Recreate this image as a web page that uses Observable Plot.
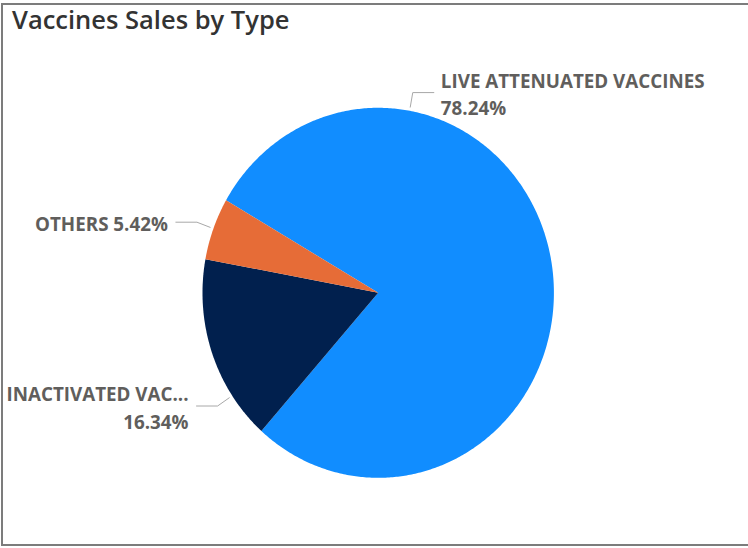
<!DOCTYPE html>
<html>
<head>
<meta charset="utf-8">
<script src="https://cdn.jsdelivr.net/npm/d3@7"></script>
<script src="https://cdn.jsdelivr.net/npm/@observablehq/plot@0.6"></script>
<style>
  html, body { margin: 0; padding: 0; background: #fff; overflow: hidden; }
  #wrap { position: relative; width: 748px; height: 548px; overflow: hidden; }
  #frame { position: absolute; left: 1px; top: 3px; width: 800px; height: 539px;
           border: 2px solid #7c7c7c; box-sizing: content-box; }
  #title { position: absolute; left: 12px; top: 2px; font-family: "Open Sans", sans-serif;
           font-size: 25.5px; font-weight: 600; color: #333333; letter-spacing: 0px; line-height: 34px; }
  #chart { position: absolute; left: 0; top: 0; }
</style>
</head>
<body>
<div id="wrap">
  <div id="frame"></div>
  <div id="chart"></div>
  <div id="title">Vaccines Sales by Type</div>
</div>
<script>
// ---- data ----
const categories = ["Live Attenuated Vaccines", "Inactivated Vaccines", "Others"];
const shares = [78.24, 16.34, 5.42];
const labelNames = ["LIVE ATTENUATED VACCINES", "INACTIVATED VAC...", "OTHERS"];
const colors = ["#118DFF", "#01204E", "#E66C37"];

// ---- layout (not data) ----
const startDeg = -60;
const labelAngleDeg = [10.3, 236.2, 290.3];
const labelSide = [1, -1, -1];
const labelTwoLines = [true, true, false];

const rows = categories.map((c, i) => ({cat: c, share: shares[i], name: labelNames[i]}));
const arcs = d3.pie().sort(null).value(d => d.share).startAngle(startDeg * Math.PI / 180)
  .endAngle(startDeg * Math.PI / 180 + 2 * Math.PI)(rows);

const slicePts = [];
arcs.forEach(a => {
  slicePts.push({cat: a.data.cat, u: 0, v: 0});
  const n = Math.max(8, Math.ceil((a.endAngle - a.startAngle) / 0.01));
  for (let k = 0; k <= n; k++) {
    const t = a.startAngle + (a.endAngle - a.startAngle) * k / n;
    slicePts.push({cat: a.data.cat, u: Math.sin(t), v: Math.cos(t)});
  }
  slicePts.push({cat: a.data.cat, u: 0, v: 0});
});

const leaderPts = [];
const labelRows = [];
rows.forEach((d, i) => {
  const t = labelAngleDeg[i] * Math.PI / 180;
  const p0 = {u: 1.02 * Math.sin(t), v: 1.02 * Math.cos(t)};
  const p1 = {u: 1.1 * Math.sin(t), v: 1.1 * Math.cos(t)};
  const p2 = {u: p1.u + labelSide[i] * 0.12, v: p1.v};
  [p0, p1, p2].forEach(p => leaderPts.push({cat: d.cat, ...p}));
  const pct = d.share.toFixed(2) + "%";
  labelRows.push({
    u: p2.u, v: p2.v, side: labelSide[i],
    text: labelTwoLines[i] ? d.name + "\n" + pct : d.name + " " + pct
  });
});

// scales placing the pie centre at (377.7, 292.3) with radii 175.7 x 185 px
const W = 748, H = 548, cx = 377.7, cy = 292.3, rx = 175.7, ry = 185;

const textStyle = {fontFamily: "Open Sans", fontWeight: 700, fontSize: 18.8, fill: "#605E5C",
  lineAnchor: "middle", lineHeight: 1.48};

const chart = Plot.plot({
  width: W, height: H, margin: 0,
  x: {domain: [-cx / rx, (W - cx) / rx], axis: null},
  y: {domain: [-(H - cy) / ry, cy / ry], axis: null},
  color: {domain: categories, range: colors},
  style: {background: "transparent"},
  marks: [
    Plot.line(slicePts, {x: "u", y: "v", z: "cat", fill: "cat", stroke: "none", curve: "linear"}),
    Plot.line(leaderPts, {x: "u", y: "v", z: "cat", stroke: "#a8a8a8", strokeWidth: 1}),
    Plot.text(labelRows.filter(d => d.side > 0), {
      x: "u", y: "v", text: "text", textAnchor: "start", dx: 7, ...textStyle
    }),
    Plot.text(labelRows.filter(d => d.side < 0), {
      x: "u", y: "v", text: "text", textAnchor: "end", dx: -8, ...textStyle
    })
  ]
});
document.getElementById("chart").appendChild(chart);
</script>
</body>
</html>
